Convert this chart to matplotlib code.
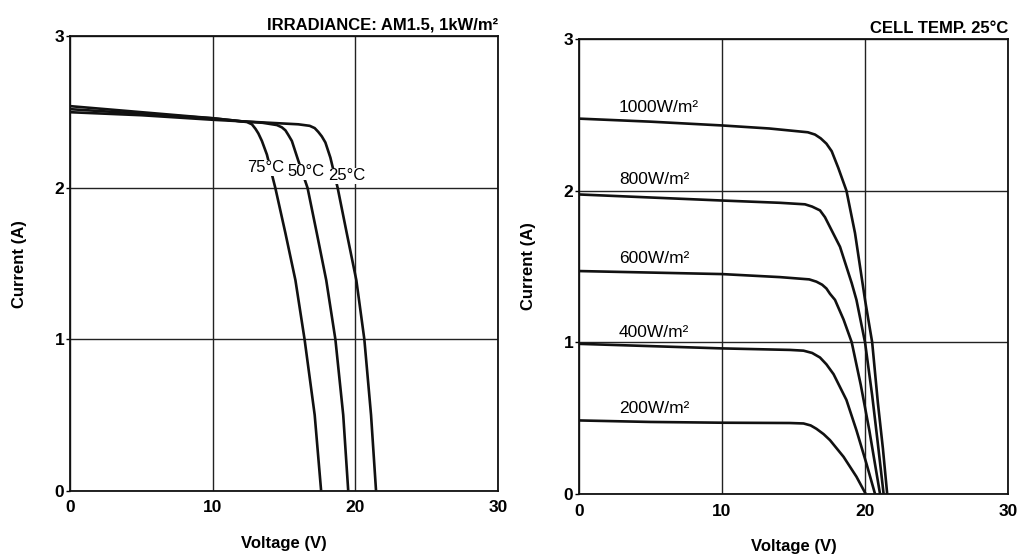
import numpy as np
import matplotlib
matplotlib.use("Agg")
import matplotlib.pyplot as plt

plt.rcParams["font.family"] = ["Liberation Sans", "DejaVu Sans"]

# --- left panel: I-V curves at three cell temperatures (AM1.5, 1kW/m2) ---
temp_labels = ["25°C", "50°C", "75°C"]
temp_v = [
    [0, 5, 10, 12, 14, 16, 16.8, 17.15, 17.4, 17.65, 17.9, 18.25, 18.76, 19.4, 20.07, 20.63, 21.1, 21.45],
    [0, 5, 10, 12, 13.5, 14.5, 14.85, 15.1, 15.3, 15.55, 16.0, 16.65, 17.3, 17.96, 18.6, 19.15, 19.5],
    [0, 5, 10, 11.5, 12.4, 12.75, 13.0, 13.2, 13.45, 13.8, 14.39, 15.1, 15.8, 16.44, 17.15, 17.6],
]
temp_i = [
    [2.50, 2.48, 2.45, 2.44, 2.43, 2.42, 2.41, 2.395, 2.37, 2.34, 2.30, 2.20, 2.0, 1.70, 1.39, 1.0, 0.5, 0.0],
    [2.52, 2.49, 2.46, 2.44, 2.43, 2.415, 2.40, 2.38, 2.35, 2.31, 2.18, 2.0, 1.70, 1.39, 1.0, 0.5, 0.0],
    [2.54, 2.50, 2.46, 2.445, 2.435, 2.42, 2.39, 2.36, 2.31, 2.22, 2.0, 1.70, 1.39, 1.0, 0.5, 0.0],
]
temp_label_pos = [(19.41, 2.079), (16.54, 2.107), (13.7, 2.133)]

# --- right panel: I-V curves at five irradiance levels (cell temp 25C) ---
irr_labels = ["1000W/m²", "800W/m²", "600W/m²", "400W/m²", "200W/m²"]
irr_v = [
    [0, 5, 10, 13.3, 16.0, 16.5, 16.9, 17.3, 17.67, 18.13, 18.7, 19.3, 20.0, 20.5, 20.9, 21.25, 21.55],
    [0, 5, 10, 14.05, 15.8, 16.3, 16.85, 17.2, 17.55, 18.25, 19.07, 19.4, 20.0, 20.5, 20.9, 21.3],
    [0, 5, 10, 14.05, 16.1, 16.6, 17.0, 17.3, 17.55, 17.9, 18.5, 19.07, 19.7, 20.3, 21.05],
    [0, 5, 10, 14.75, 15.7, 16.3, 16.85, 17.3, 17.8, 18.7, 19.4, 20.1, 20.7],
    [0, 5, 10, 14.75, 15.7, 16.2, 16.6, 17.1, 17.55, 18.5, 19.4, 20.05],
]
irr_i = [
    [2.475, 2.455, 2.43, 2.41, 2.385, 2.37, 2.345, 2.31, 2.26, 2.15, 2.0, 1.72, 1.28, 1.0, 0.6, 0.3, 0.0],
    [1.975, 1.955, 1.935, 1.92, 1.91, 1.895, 1.87, 1.825, 1.76, 1.63, 1.39, 1.28, 1.0, 0.65, 0.33, 0.0],
    [1.47, 1.46, 1.45, 1.43, 1.415, 1.40, 1.38, 1.355, 1.32, 1.28, 1.15, 1.0, 0.72, 0.42, 0.0],
    [0.99, 0.975, 0.96, 0.95, 0.945, 0.93, 0.90, 0.855, 0.79, 0.62, 0.42, 0.20, 0.0],
    [0.485, 0.475, 0.47, 0.468, 0.465, 0.452, 0.43, 0.395, 0.355, 0.245, 0.114, 0.0],
]
irr_label_y = [2.546, 2.075, 1.553, 1.066, 0.566]
irr_label_x = 2.8

x_ticks = [0, 10, 20, 30]
y_ticks = [0, 1, 2, 3]

fig = plt.figure(figsize=(10.18, 5.58), dpi=100)
ax1 = fig.add_axes([0.0688, 0.1206, 0.4204, 0.814])
ax2 = fig.add_axes([0.5688, 0.1147, 0.4214, 0.8154])


def style_axes(ax, title, title_pad):
    ax.set_xlim(0, 30)
    ax.set_ylim(0, 3)
    ax.set_xticks(x_ticks)
    ax.set_yticks(y_ticks)
    ax.grid(True, color="#222222", linewidth=1.0)
    ax.set_axisbelow(True)
    for s in ax.spines.values():
        s.set_linewidth(1.3)
        s.set_color("#111111")
    ax.tick_params(axis="x", length=0, pad=7, labelsize=12.5)
    ax.tick_params(axis="y", length=3, width=1, pad=1, labelsize=12.5)
    for lab in ax.get_xticklabels() + ax.get_yticklabels():
        lab.set_fontweight("bold")
    ax.set_xlabel("Voltage (V)", fontsize=12, fontweight="bold")
    ax.set_ylabel("Current (A)", fontsize=12, fontweight="bold")
    ax.xaxis.set_label_coords(0.5, -0.10)
    ax.yaxis.set_label_coords(-0.10, 0.5)
    ax.set_title(title, loc="right", fontsize=12, fontweight="bold", pad=title_pad)


style_axes(ax1, "IRRADIANCE: AM1.5, 1kW/m²", 5)
style_axes(ax2, "CELL TEMP. 25°C", 4)

for v, i in zip(temp_v, temp_i):
    ax1.plot(v, i, color="#111111", linewidth=1.9, solid_capstyle="butt")
for lab, (lx, ly) in zip(temp_labels, temp_label_pos):
    ax1.text(lx, ly, lab, ha="center", va="center", fontsize=12,
             bbox=dict(facecolor="white", edgecolor="none", pad=0.5), zorder=5)

for v, i in zip(irr_v, irr_i):
    ax2.plot(v, i, color="#111111", linewidth=1.9, solid_capstyle="butt")
for lab, ly in zip(irr_labels, irr_label_y):
    ax2.text(irr_label_x, ly, lab, ha="left", va="center", fontsize=12.5)

fig.savefig("out.png", dpi=100)
